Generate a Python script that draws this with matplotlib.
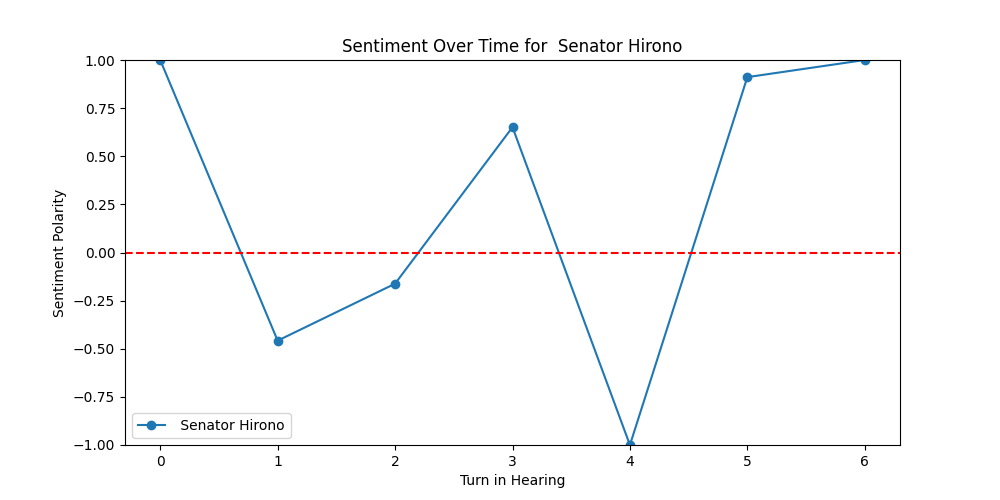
import matplotlib
matplotlib.use("Agg")
import matplotlib.pyplot as plt

speaker = " Senator Hirono"
turns = [0, 1, 2, 3, 4, 5, 6]
polarity = [1.0, -0.458, -0.162, 0.651, -1.0, 0.911, 1.0]

fig = plt.figure(figsize=(10, 5), dpi=100)
plt.plot(turns, polarity, marker="o", label=speaker)
plt.axhline(0, color="red", linestyle="--")
plt.title("Sentiment Over Time for " + speaker)
plt.xlabel("Turn in Hearing")
plt.ylabel("Sentiment Polarity")
plt.ylim(-1, 1)
plt.legend(loc="lower left")
plt.savefig("out.png")
